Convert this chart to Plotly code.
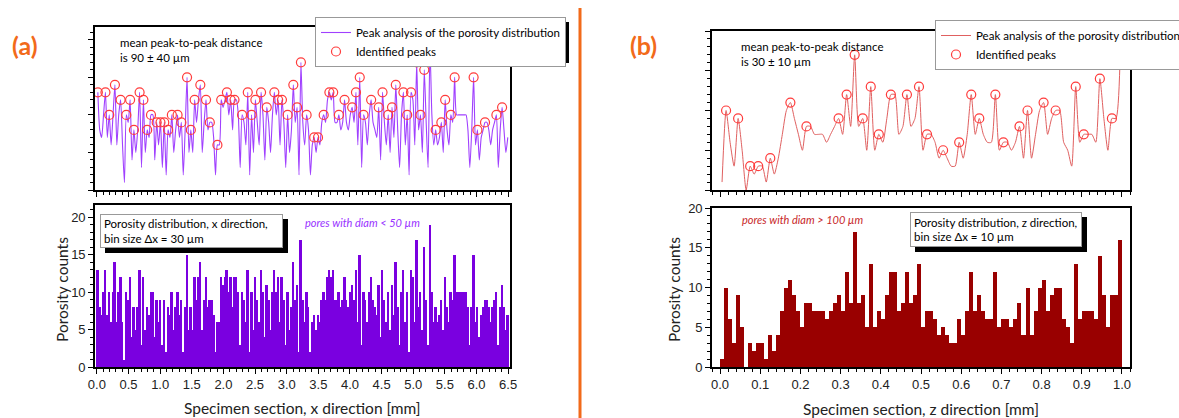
import plotly.graph_objects as go

W, H = 1179, 418

# ---------------- data ----------------
# (a) porosity counts along x, bin size 30 um (0.03 mm)
x_bin_mm = 0.03
x_counts = [
    13, 8, 7, 10, 13, 7, 10, 6, 10, 14,
    6, 10, 12, 6, 1, 10, 9, 12, 4, 8,
    5, 8, 13, 3, 12, 5, 8, 7, 10, 10,
    4, 9, 6, 9, 3, 9, 2, 8, 7, 10,
    5, 8, 10, 7, 9, 2, 8, 15, 5, 8,
    5, 12, 9, 12, 14, 5, 9, 12, 8, 9,
    9, 7, 2, 6, 6, 12, 11, 12, 13, 10,
    12, 8, 12, 12, 10, 3, 10, 9, 6, 13,
    2, 10, 5, 12, 9, 6, 13, 10, 4, 11,
    9, 5, 10, 13, 10, 12, 6, 12, 9, 3,
    10, 5, 8, 14, 9, 11, 2, 17, 9, 6,
    10, 8, 2, 6, 7, 5, 7, 6, 9, 10,
    9, 12, 13, 12, 13, 9, 9, 10, 8, 9,
    12, 9, 8, 10, 11, 9, 13, 6, 15, 3,
    10, 9, 6, 10, 12, 9, 8, 7, 11, 4,
    13, 9, 6, 10, 5, 11, 7, 14, 8, 3,
    10, 13, 6, 10, 2, 13, 12, 6, 17, 8,
    10, 5, 16, 9, 3, 19, 10, 6, 8, 6,
    7, 9, 5, 12, 8, 6, 10, 9, 15, 10,
    10, 10, 10, 10, 10, 8, 3, 8, 15, 6,
    8, 4, 7, 8, 9, 9, 8, 6, 8, 9,
    10, 3, 8, 11, 8, 5, 7,
]

# (b) porosity counts along z, bin size 10 um (0.01 mm)
z_bin_mm = 0.01
z_counts = [
    1, 10, 6, 3, 9, 5, 0, 3, 2, 3,
    3, 1, 4, 2, 4, 7, 10, 11, 9, 7,
    5, 8, 8, 7, 7, 7, 6, 7, 8, 9,
    7, 12, 8, 17, 8, 9, 5, 13, 5, 7,
    6, 9, 12, 12, 7, 8, 12, 8, 9, 13,
    5, 7, 7, 6, 4, 5, 4, 3, 3, 6,
    4, 7, 12, 7, 9, 7, 6, 6, 12, 5,
    6, 6, 5, 6, 8, 4, 10, 4, 7, 10,
    11, 7, 9, 10, 10, 6, 5, 3, 13, 6,
    7, 7, 7, 6, 14, 9, 5, 9, 9, 16,
]

x_ticks_a = [0.0, 0.5, 1.0, 1.5, 2.0, 2.5, 3.0, 3.5, 4.0, 4.5, 5.0, 5.5, 6.0, 6.5]
x_ticks_b = [0.0, 0.1, 0.2, 0.3, 0.4, 0.5, 0.6, 0.7, 0.8, 0.9, 1.0]
y_ticks = [0, 5, 10, 15, 20]

# bin centres
x_pos = [(i + 0.5) * x_bin_mm for i in range(len(x_counts))]
z_pos = [(i + 0.5) * z_bin_mm for i in range(len(z_counts))]


def peak_indices(v):
    out = []
    for i in range(len(v) - 1):
        prev = v[i - 1] if i > 0 else -1
        if v[i] > prev and v[i] >= v[i + 1]:
            out.append(i)
    return out


pa = peak_indices(x_counts)
pb = peak_indices(z_counts)

# ---------------- styling ----------------
PURPLE_BAR = "#7A00E0"
PURPLE_LINE = "#A040FF"
RED_BAR = "#990000"
RED_LINE = "#E06060"
PEAK_RED = "#FF3B3B"
ORANGE = "#F26A1A"
TXT = "Lato, 'Open Sans', sans-serif"
TICKF = "'Liberation Sans', Arial, sans-serif"


def px(x):
    return x / W


def py(y):
    return 1 - y / H


fig = go.Figure()

# (a) histogram
fig.add_trace(go.Bar(x=x_pos, y=x_counts, width=x_bin_mm,
                     marker=dict(color=PURPLE_BAR, line=dict(width=0)),
                     xaxis="x", yaxis="y", showlegend=False))
# (a) peak analysis line
fig.add_trace(go.Scatter(x=x_pos, y=x_counts, mode="lines", line=dict(color=PURPLE_LINE, width=1.1, shape="spline", smoothing=0.6),
                         xaxis="x2", yaxis="y2", name="Peak analysis of the porosity distribution", legend="legend"))
fig.add_trace(go.Scatter(x=[x_pos[i] for i in pa], y=[x_counts[i] for i in pa], mode="markers",
                         marker=dict(symbol="circle-open", size=9, color=PEAK_RED, line=dict(width=1.2)),
                         xaxis="x2", yaxis="y2", name="Identified peaks", legend="legend"))

# (b) histogram
fig.add_trace(go.Bar(x=z_pos, y=z_counts, width=z_bin_mm,
                     marker=dict(color=RED_BAR, line=dict(width=0)),
                     xaxis="x3", yaxis="y3", showlegend=False))
fig.add_trace(go.Scatter(x=z_pos, y=z_counts, mode="lines", line=dict(color=RED_LINE, width=1, shape="spline", smoothing=0.6),
                         xaxis="x4", yaxis="y4", name="Peak analysis of the porosity distribution", legend="legend2"))
fig.add_trace(go.Scatter(x=[z_pos[i] for i in pb], y=[z_counts[i] for i in pb], mode="markers",
                         marker=dict(symbol="circle-open", size=9, color=PEAK_RED, line=dict(width=1.2)),
                         xaxis="x4", yaxis="y4", name="Identified peaks", legend="legend2"))

axis_common = dict(showline=True, linecolor="black", linewidth=1.6, mirror=True, ticks="outside", ticklen=5,
                   tickwidth=1.3, tickcolor="black", showgrid=False, zeroline=False,
                   tickfont=dict(family=TICKF, size=13, color="#222"))

xa = dict(axis_common, domain=[px(95), px(510)], range=[-0.03, 6.53], tickmode="array", tickvals=x_ticks_a,
          ticktext=[f"{t:.1f}" for t in x_ticks_a],
          minor=dict(ticks="outside", ticklen=3, tickwidth=1, tickcolor="black", dtick=0.1, tick0=0))
xb = dict(axis_common, domain=[px(712), px(1130)], range=[-0.02, 1.02], tickmode="array", tickvals=x_ticks_b,
          ticktext=[f"{t:.1f}" for t in x_ticks_b],
          minor=dict(ticks="outside", ticklen=3, tickwidth=1, tickcolor="black", dtick=0.02, tick0=0))
ya = dict(axis_common, tickmode="array", tickvals=y_ticks,
          minor=dict(ticks="outside", ticklen=3, tickwidth=1, tickcolor="black", dtick=1, tick0=0))

fig.update_layout(
    width=W, height=H,
    margin=dict(l=0, r=0, t=0, b=0, autoexpand=False),
    paper_bgcolor="white", plot_bgcolor="white",
    bargap=0,
    xaxis=dict(xa, anchor="y"),
    yaxis=dict(ya, anchor="x", domain=[py(367), py(205)], range=[0, 21.6]),
    xaxis2=dict(xa, anchor="y2", matches="x", showticklabels=False),
    yaxis2=dict(ya, anchor="x2", domain=[py(190), py(27)], range=[0, 21.7], showticklabels=False),
    xaxis3=dict(xb, anchor="y3"),
    yaxis3=dict(ya, anchor="x3", domain=[py(367), py(208)], range=[0, 20]),
    xaxis4=dict(xb, anchor="y4", matches="x3", showticklabels=False),
    yaxis4=dict(ya, anchor="x4", domain=[py(190), py(31)], range=[0, 20], showticklabels=False),
    legend=dict(x=px(315), y=py(17), xanchor="left", yanchor="top", bgcolor="white", bordercolor="#999",
                borderwidth=1, font=dict(family=TXT, size=11.5, color="black"), tracegroupgap=0, itemwidth=30),
    legend2=dict(x=px(935), y=py(20), xanchor="left", yanchor="top", bgcolor="white", bordercolor="#999",
                 borderwidth=1, font=dict(family=TXT, size=11.5, color="black"), tracegroupgap=0, itemwidth=30),
)

shapes = [
    # orange separator
    dict(type="line", xref="paper", yref="paper", x0=px(580), x1=px(580), y0=0, y1=py(8),
         line=dict(color=ORANGE, width=3)),
    # legend shadows
    dict(type="rect", xref="paper", yref="paper", x0=px(320), x1=px(569), y0=py(63), y1=py(22),
         fillcolor="black", line=dict(width=0), layer="above"),
    dict(type="rect", xref="paper", yref="paper", x0=px(940), x1=px(1185), y0=py(66), y1=py(25),
         fillcolor="black", line=dict(width=0), layer="above"),
    # text box shadows
    dict(type="rect", xref="paper", yref="paper", x0=px(105), x1=px(288), y0=py(253), y1=py(219),
         fillcolor="black", line=dict(width=0), layer="above"),
    dict(type="rect", xref="paper", yref="paper", x0=px(915), x1=px(1087), y0=py(252), y1=py(217),
         fillcolor="black", line=dict(width=0), layer="above"),
]
fig.update_layout(shapes=shapes)

ann = []
ann.append(dict(text="<b>(a)</b>", x=px(25), y=py(45), font=dict(family=TXT, size=25, color=ORANGE)))
ann.append(dict(text="<b>(b)</b>", x=px(643), y=py(45), font=dict(family=TXT, size=25, color=ORANGE)))
ann.append(dict(text="mean peak-to-peak distance<br>is 90 ± 40 µm", x=px(118), y=py(34), xanchor="left",
                yanchor="top", align="left", font=dict(family=TXT, size=11.5, color="black")))
ann.append(dict(text="mean peak-to-peak distance<br>is 30 ± 10 µm", x=px(739), y=py(38), xanchor="left",
                yanchor="top", align="left", font=dict(family=TXT, size=11.5, color="black")))
ann.append(dict(text="Porosity distribution, x direction,<br>bin size Δx = 30 µm", x=px(100), y=py(214),
                xanchor="left", yanchor="top", align="left", width=175, height=26, borderpad=3, borderwidth=1,
                bordercolor="#999", bgcolor="white", font=dict(family=TXT, size=11.5, color="black")))
ann.append(dict(text="Porosity distribution, z direction,<br>bin size Δx = 10 µm", x=px(910), y=py(212),
                xanchor="left", yanchor="top", align="left", width=164, height=27, borderpad=3, borderwidth=1,
                bordercolor="#999", bgcolor="white", font=dict(family=TXT, size=11.5, color="black")))
ann.append(dict(text="<i>pores with diam &lt; 50 µm</i>", x=px(362), y=py(223),
                font=dict(family=TXT, size=11, color="#9933FF")))
ann.append(dict(text="<i>pores with diam &gt; 100 µm</i>", x=px(803), y=py(219),
                font=dict(family=TXT, size=11, color="#C8282A")))
ann.append(dict(text="Specimen section, x direction [mm]", x=px(302), y=py(408),
                font=dict(family=TXT, size=15.5, color="#222")))
ann.append(dict(text="Specimen section, z direction [mm]", x=px(921), y=py(409),
                font=dict(family=TXT, size=15.5, color="#222")))
ann.append(dict(text="Porosity counts", x=px(62), y=py(290), textangle=-90,
                font=dict(family=TXT, size=15.5, color="#222")))
ann.append(dict(text="Porosity counts", x=px(674), y=py(290), textangle=-90,
                font=dict(family=TXT, size=15.5, color="#222")))
for a in ann:
    a.setdefault("xref", "paper")
    a.setdefault("yref", "paper")
    a.setdefault("showarrow", False)
    a.setdefault("xanchor", "center")
    a.setdefault("yanchor", "middle")
fig.update_layout(annotations=ann)

fig.write_html("out.html")
